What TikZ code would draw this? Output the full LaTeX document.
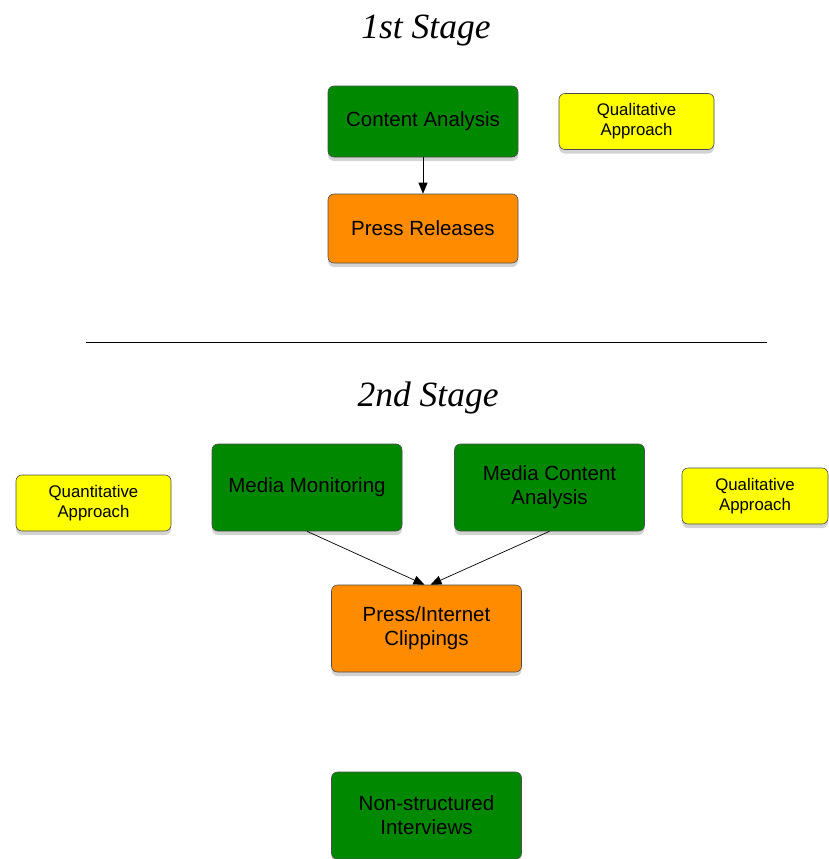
\documentclass[tikz,border=0pt]{standalone}
\usepackage{fontspec}
\setmainfont{Liberation Sans}
\newfontfamily\stagefont{Liberation Serif}
\usepackage{tikz}
\usetikzlibrary{arrows.meta}
\usetikzlibrary{shadows}

\definecolor{boxgreen}{RGB}{0,136,0}
\definecolor{boxorange}{RGB}{255,140,0}
\definecolor{boxyellow}{RGB}{255,255,0}

\begin{document}
\begin{tikzpicture}[
            x=1pt, y=-1pt,
            box/.style={draw=black!70, line width=0.6pt, rounded corners=6pt,
                align=center, minimum width=190pt,
                font=\fontsize{20.5}{24}\selectfont,
                drop shadow={shadow xshift=0pt, shadow yshift=-4pt, opacity=0.35}},
            method/.style={box, fill=boxgreen},
            source/.style={box, fill=boxorange},
            approach/.style={box, fill=boxyellow, minimum width=155pt, minimum height=56pt,
                font=\fontsize{16.8}{20}\selectfont},
            stagetitle/.style={font=\stagefont\itshape\fontsize{35.5}{42}\selectfont},
            link/.style={-{Triangle[length=11pt, width=9pt]}, line width=0.7pt},
        ]
            \useasboundingbox (0,0) rectangle (829,859);

            % --- 1st stage ---
            \node[stagetitle] (title1) at (426,31) {1st Stage};
            \node[method, minimum height=71pt] (ca) at (423,121.5) {Content Analysis};
            \node[approach] (qual1) at (636.5,121.5) {Qualitative\\Approach};
            \node[source, minimum height=69pt] (pr) at (423,228.5) {Press Releases};
            \draw[link] (ca) -- (pr);

            % --- separator ---
            \draw[line width=0.7pt] (86,342) -- (767,342);

            % --- 2nd stage ---
            \node[stagetitle] (title2) at (428,398) {2nd Stage};
            \node[approach] (quant) at (93.5,503) {Quantitative\\Approach};
            \node[method, minimum height=87pt] (mm) at (307,487.5) {Media Monitoring};
            \node[method, minimum height=87pt] (mca) at (549.5,487.5) {Media Content\\Analysis};
            \node[approach, minimum width=146pt] (qual2) at (755,496) {Qualitative\\Approach};
            \node[source, minimum height=87pt] (pic) at (426.5,628.5) {Press/Internet\\Clippings};
            \draw[link] (mm.south) -- ([xshift=-2pt]pic.north);
            \draw[link] (mca.south) -- ([xshift=4pt]pic.north);

            % --- interviews ---
            \node[method, minimum height=87pt] (nsi) at (426.5,815.5) {Non-structured\\Interviews};
        \end{tikzpicture}
\end{document}
